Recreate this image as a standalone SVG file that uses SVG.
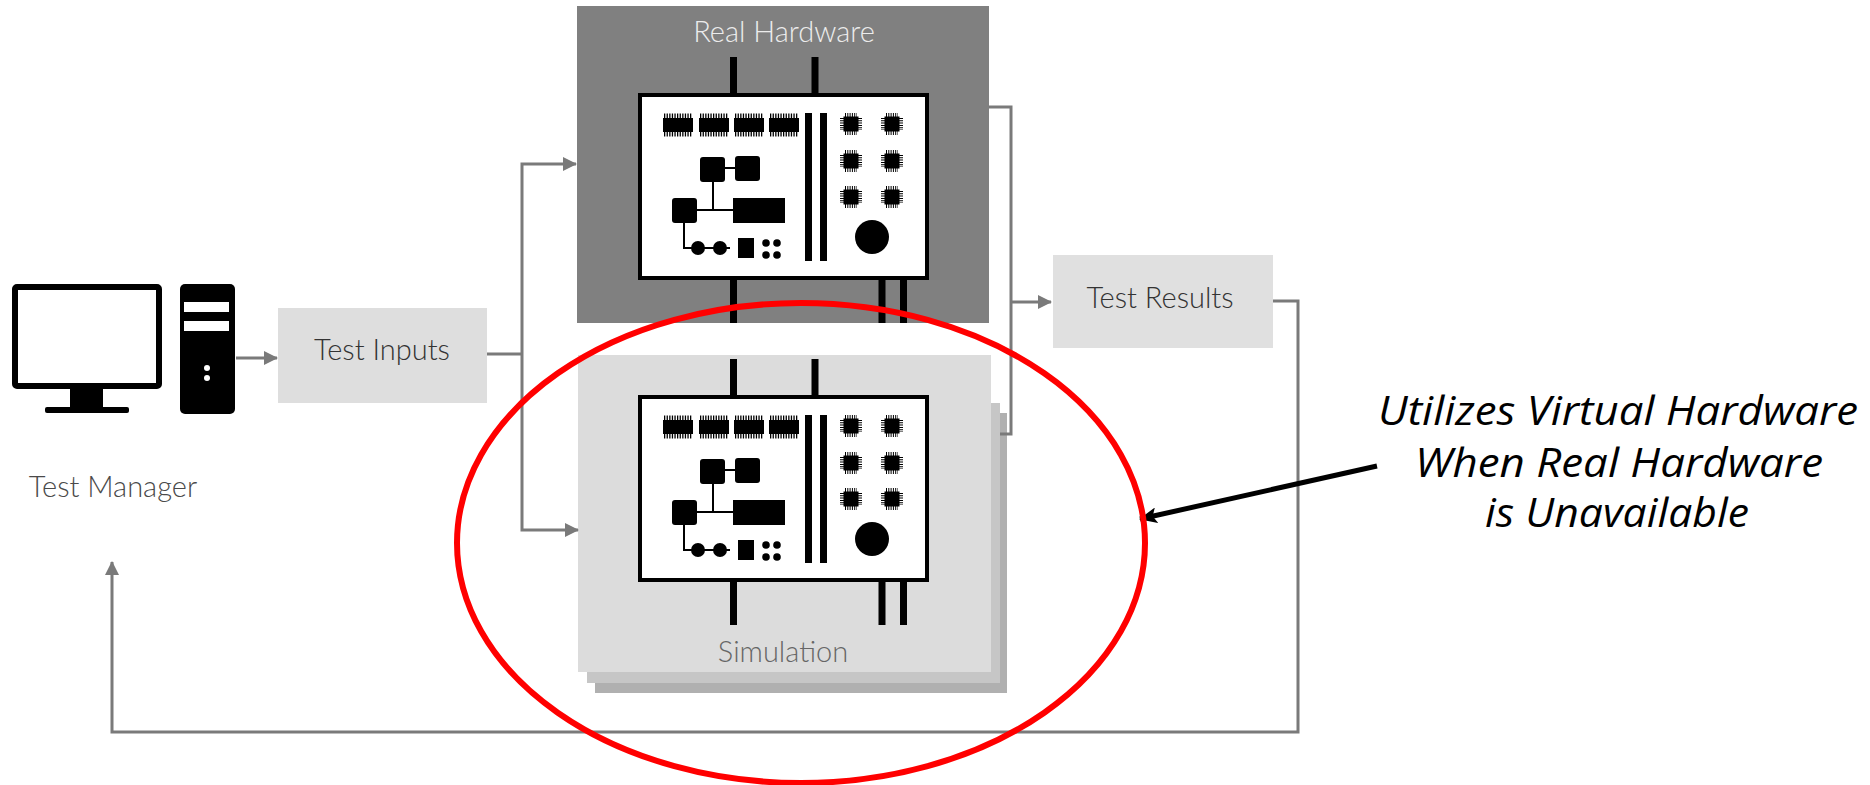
<svg xmlns="http://www.w3.org/2000/svg" xmlns:xlink="http://www.w3.org/1999/xlink" width="1870" height="785" viewBox="0 0 1870 785">
  <style>
    .lbl { font-family: Lato, "Liberation Sans", sans-serif; font-size: 29px; font-weight: 300; text-anchor: middle; }
    .dark { fill: #333; }
    .note { font-family: "Open Sans", "Liberation Sans", sans-serif; font-style: italic; font-size: 40px; fill: #000; text-anchor: middle; }
    .wire { fill: none; stroke: #7a7a7a; stroke-width: 3; }
    .trace { fill: none; stroke: #000; stroke-width: 2; }
    .ink { fill: #000; }
  </style>
  <defs>
    <marker id="gray-head" viewBox="0 0 14 14" markerUnits="userSpaceOnUse" markerWidth="14" markerHeight="14" refX="13" refY="7" orient="auto">
      <path d="M0,0 L14,7 L0,14 z" fill="#7a7a7a"/>
    </marker>
    <marker id="black-head" viewBox="0 0 18 16" markerUnits="userSpaceOnUse" markerWidth="18" markerHeight="16" refX="17" refY="8" orient="auto">
      <path d="M0,0 L18,8 L0,16 L4,8 z" fill="#000"/>
    </marker>

    <!-- small DIP package: body with pin combs above and below -->
    <g id="dip">
      <rect x="0" y="2" width="30" height="14" class="ink"/>
      <line x1="1" y1="0" x2="29" y2="0" stroke="#000" stroke-width="5" stroke-dasharray="1.3 1.3"/>
      <line x1="1" y1="18" x2="29" y2="18" stroke="#000" stroke-width="5" stroke-dasharray="1.3 1.3"/>
    </g>

    <!-- QFN package centred on 0,0 with pins on all four sides -->
    <g id="qfn">
      <rect x="-7.5" y="-7.5" width="15" height="15" class="ink"/>
      <g stroke="#000" stroke-width="6" stroke-dasharray="1 1.3">
        <line x1="-6" y1="-8" x2="6" y2="-8"/>
        <line x1="-6" y1="8" x2="6" y2="8"/>
        <line x1="-8" y1="-6" x2="-8" y2="6"/>
        <line x1="8" y1="-6" x2="8" y2="6"/>
      </g>
    </g>

    <!-- circuit board artwork, drawn at the Real Hardware position -->
    <g id="board">
      <rect x="730" y="57" width="7" height="37" class="ink"/>
      <rect x="811.5" y="57" width="7" height="37" class="ink"/>
      <rect x="730" y="279" width="7" height="44" class="ink"/>
      <rect x="878.5" y="279" width="7" height="44" class="ink"/>
      <rect x="900" y="279" width="7" height="44" class="ink"/>
      <rect x="640" y="95" width="287" height="183" fill="#fff" stroke="#000" stroke-width="4"/>

      <use xlink:href="#dip" x="663" y="116"/>
      <use xlink:href="#dip" x="699" y="116"/>
      <use xlink:href="#dip" x="734" y="116"/>
      <use xlink:href="#dip" x="769" y="116"/>

      <rect x="805" y="113" width="7" height="148" class="ink"/>
      <rect x="820" y="113" width="7" height="148" class="ink"/>

      <use xlink:href="#qfn" x="851" y="124"/>
      <use xlink:href="#qfn" x="892" y="124"/>
      <use xlink:href="#qfn" x="851" y="161"/>
      <use xlink:href="#qfn" x="892" y="161"/>
      <use xlink:href="#qfn" x="851" y="197"/>
      <use xlink:href="#qfn" x="892" y="197"/>

      <circle cx="872" cy="237" r="17" class="ink"/>

      <rect x="700" y="157" width="25" height="25" rx="3" class="ink"/>
      <rect x="735" y="156" width="25" height="25" rx="3" class="ink"/>
      <line x1="725" y1="168" x2="735" y2="168" class="trace"/>
      <line x1="713" y1="182" x2="713" y2="210" class="trace"/>
      <rect x="672" y="198" width="25" height="25" rx="3" class="ink"/>
      <rect x="733" y="198" width="52" height="25" class="ink"/>
      <line x1="697" y1="210" x2="733" y2="210" class="trace"/>
      <path d="M684,223 V248 H730" class="trace"/>
      <circle cx="698" cy="248" r="7" class="ink"/>
      <circle cx="720" cy="248" r="7" class="ink"/>
      <rect x="738" y="238" width="16" height="20" class="ink"/>
      <circle cx="766" cy="243" r="3.8" class="ink"/>
      <circle cx="777" cy="243" r="3.8" class="ink"/>
      <circle cx="766" cy="255" r="3.8" class="ink"/>
      <circle cx="777" cy="255" r="3.8" class="ink"/>
    </g>
  </defs>

  <rect width="1870" height="785" fill="#fff"/>

  <!-- Test Manager: monitor and tower -->
  <g id="test-manager">
    <rect x="15" y="287" width="144" height="99" rx="2" fill="#fff" stroke="#000" stroke-width="6"/>
    <rect x="70" y="388" width="33" height="20" class="ink"/>
    <rect x="45" y="407" width="84" height="6" rx="2" class="ink"/>
    <rect x="180" y="284" width="55" height="130" rx="5" class="ink"/>
    <rect x="184" y="302" width="45" height="10" fill="#fff"/>
    <rect x="184" y="321" width="45" height="10" fill="#fff"/>
    <circle cx="207" cy="368" r="3" fill="#fff"/>
    <circle cx="207" cy="378" r="3" fill="#fff"/>
    <text x="113" y="497" class="lbl" fill="#4a4a4a">Test Manager</text>
  </g>

  <g id="test-inputs">
    <rect x="278" y="308" width="209" height="95" fill="#dedede"/>
    <text x="382" y="360" class="lbl dark">Test Inputs</text>
  </g>

  <g id="real-hardware">
    <rect x="577" y="6" width="412" height="317" fill="#808080"/>
    <text x="784" y="42" class="lbl" fill="#ececec">Real Hardware</text>
    <use xlink:href="#board"/>
  </g>

  <g id="simulation">
    <rect x="595" y="413" width="412" height="280" fill="#b0b0b0"/>
    <rect x="587" y="403" width="413" height="280" fill="#c6c6c6"/>
    <rect x="578" y="355" width="413" height="317" fill="#dcdcdc"/>
    <use xlink:href="#board" y="302"/>
    <text x="783" y="662" class="lbl" fill="#666">Simulation</text>
  </g>

  <g id="test-results">
    <rect x="1053" y="255" width="220" height="93" fill="#e0e0e0"/>
    <text x="1160" y="308" class="lbl dark">Test Results</text>
  </g>

  <g id="connectors">
    <path d="M236,358 H277" class="wire" marker-end="url(#gray-head)"/>
    <path d="M487,354 H522" class="wire"/>
    <path d="M522,354 V164 H576" class="wire" marker-end="url(#gray-head)"/>
    <path d="M522,354 V530 H578" class="wire" marker-end="url(#gray-head)"/>
    <path d="M989,107 H1011 V434 H1000" class="wire"/>
    <path d="M1011,302 H1051" class="wire" marker-end="url(#gray-head)"/>
    <path d="M1273,301 H1298 V732 H112 V562" class="wire" marker-end="url(#gray-head)"/>
    <line x1="1377" y1="466" x2="1140" y2="519" stroke="#000" stroke-width="5" marker-end="url(#black-head)"/>
  </g>

  <g id="highlight">
    <ellipse cx="801" cy="543" rx="344" ry="240" fill="none" stroke="#ff0000" stroke-width="6"/>
  </g>

  <g id="note">
    <text x="1618" y="425" class="note" textLength="480" lengthAdjust="spacingAndGlyphs">Utilizes Virtual Hardware</text>
    <text x="1619" y="477" class="note" textLength="408" lengthAdjust="spacingAndGlyphs">When Real Hardware</text>
    <text x="1617" y="527" class="note" textLength="264" lengthAdjust="spacingAndGlyphs">is Unavailable</text>
  </g>
</svg>
